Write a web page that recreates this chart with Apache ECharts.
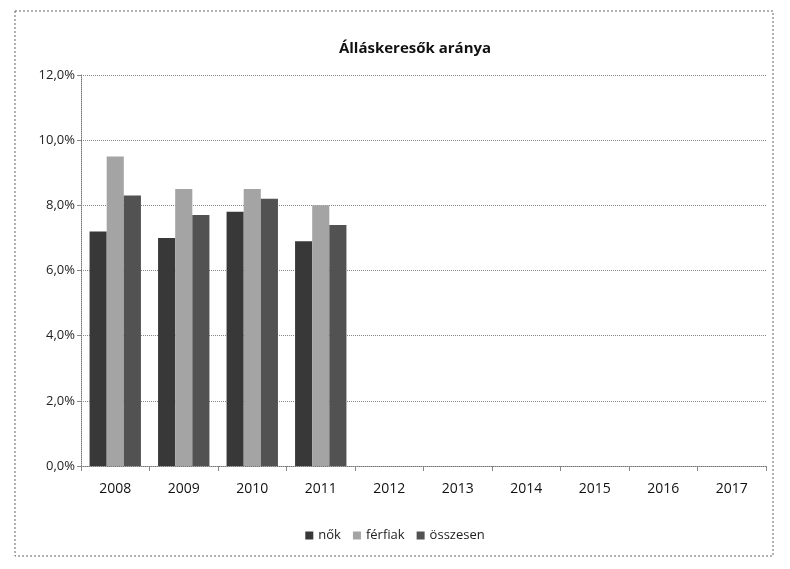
<!DOCTYPE html>
<html><head><meta charset="utf-8">
<script src="https://cdn.jsdelivr.net/npm/echarts@6/dist/echarts.min.js"></script>
<style>html,body{margin:0;padding:0;background:#fff}#c{width:790px;height:569px}</style>
</head><body><div id="c"></div>
<script>
const categories = ['2008','2009','2010','2011','2012','2013','2014','2015','2016','2017'];
const nok = [7.2, 7.0, 7.8, 6.9, null, null, null, null, null, null];
const ferfiak = [9.5, 8.5, 8.5, 8.0, null, null, null, null, null, null];
const osszesen = [8.3, 7.7, 8.2, 7.4, null, null, null, null, null, null];
const yTicks = [0, 2, 4, 6, 8, 10, 12];

const chart = echarts.init(document.getElementById('c'));
const font = '"Open Sans", "Liberation Sans", sans-serif';
chart.setOption({
  animation:false,
  backgroundColor:'#fff',
  title:{text:'Álláskeresők aránya', left:410, top:36, textAlign:'center',
    textStyle:{fontFamily:font, fontSize:15, fontWeight:'bold', color:'#111'}},
  legend:{bottom:22, left:'center', icon:'rect', itemWidth:8, itemHeight:8, itemGap:12,
    textStyle:{fontFamily:font, fontSize:13, color:'#222'},
    data:['nők','férfiak','összesen']},
  grid:{left:81, right:24, top:75, bottom:103},
  xAxis:{type:'category', data:categories,
    axisLine:{lineStyle:{color:'#777', type:'dotted'}},
    axisTick:{show:true, length:5, lineStyle:{color:'#888'}},
    axisLabel:{fontFamily:font, fontSize:14, color:'#111', margin:16}},
  yAxis:{type:'value', min:0, max:12, interval:2,
    axisLine:{show:true, lineStyle:{color:'#777', type:'dotted'}},
    axisTick:{show:true, length:4, lineStyle:{color:'#888'}},
    splitLine:{lineStyle:{color:'#888', type:'dotted'}},
    axisLabel:{fontFamily:font, fontSize:13, color:'#222', margin:6,
      formatter:v=> yTicks.includes(v) ? v.toFixed(1).replace('.',',')+'%' : ''}},
  series:[
    {name:'nők', type:'bar', data:nok, barGap:'0%', barCategoryGap:'25%',
      itemStyle:{color:'#383838'}},
    {name:'férfiak', type:'bar', data:ferfiak,
      itemStyle:{color:'#a4a4a4'}},
    {name:'összesen', type:'bar', data:osszesen,
      itemStyle:{color:'#525252'}}
  ],
  graphic:[{type:'rect', shape:{x:15, y:11, width:758, height:545},
    style:{fill:'none', stroke:'#666', lineWidth:1, lineDash:[2,2]}, silent:true}]
});
</script></body></html>
